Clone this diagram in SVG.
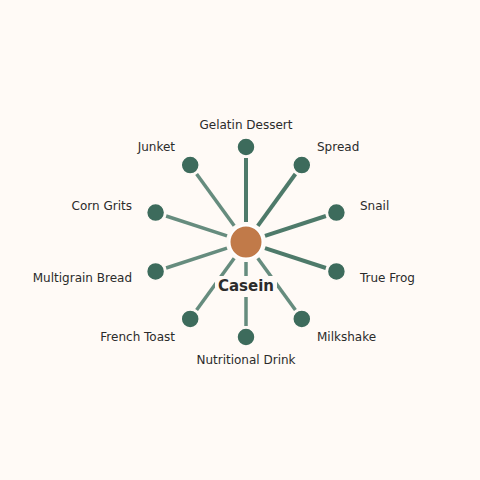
<svg xmlns="http://www.w3.org/2000/svg" width="480" height="480" viewBox="0 0 480 480">
<style>
.lbl{font-family:"DejaVu Sans",sans-serif;font-size:12px;fill:#2b2b2b}
.leaf{fill:#3d6b5c;stroke:#fffaf6;stroke-width:1.5}
.e1{stroke:#4e7a6a;stroke-width:4;stroke-linecap:butt}
.e2{stroke:#668c7e;stroke-width:3.5;stroke-linecap:butt}
</style>
<rect width="480" height="480" fill="#fffaf6"/>
<g id="connectors">
<line class="e1" x1="246" y1="222" x2="246" y2="158"/>
<line class="e1" x1="257.8" y1="225.8" x2="295.4" y2="174"/>
<line class="e1" x1="265" y1="235.8" x2="325.9" y2="216"/>
<line class="e1" x1="265" y1="248.2" x2="325.9" y2="268"/>
<line class="e2" x1="257.8" y1="258.2" x2="295.4" y2="310"/>
<line class="e2" x1="246" y1="262" x2="246" y2="326"/>
<line class="e2" x1="234.2" y1="258.2" x2="196.6" y2="310"/>
<line class="e2" x1="227" y1="248.2" x2="166.1" y2="268"/>
<line class="e2" x1="227" y1="235.8" x2="166.1" y2="216"/>
<line class="e2" x1="234.2" y1="225.8" x2="196.6" y2="174"/>
</g>
<g id="center">
<circle cx="246" cy="242" r="16.5" fill="#c17a49" stroke="#ffffff" stroke-width="2"/>
<rect x="215" y="276" width="62" height="21" fill="#fffaf6"/>
<text x="246" y="291" text-anchor="middle" style="font-family:'DejaVu Sans',sans-serif;font-size:15px;font-weight:bold;fill:#2b2b2b">Casein</text>
</g>
<g id="n-gelatin"><circle class="leaf" cx="246" cy="147" r="9"/><text class="lbl" x="246" y="129" text-anchor="middle">Gelatin Dessert</text></g>
<g id="n-spread"><circle class="leaf" cx="301.8" cy="165.1" r="9"/><text class="lbl" x="317" y="151">Spread</text></g>
<g id="n-snail"><circle class="leaf" cx="336.4" cy="212.6" r="9"/><text class="lbl" x="360" y="210">Snail</text></g>
<g id="n-truefrog"><circle class="leaf" cx="336.4" cy="271.4" r="9"/><text class="lbl" x="360" y="282">True Frog</text></g>
<g id="n-milkshake"><circle class="leaf" cx="301.8" cy="318.9" r="9"/><text class="lbl" x="317" y="341">Milkshake</text></g>
<g id="n-nutritional"><circle class="leaf" cx="246" cy="337" r="9"/><text class="lbl" x="246" y="364" text-anchor="middle">Nutritional Drink</text></g>
<g id="n-frenchtoast"><circle class="leaf" cx="190.2" cy="318.9" r="9"/><text class="lbl" x="175" y="341" text-anchor="end">French Toast</text></g>
<g id="n-multigrain"><circle class="leaf" cx="155.6" cy="271.4" r="9"/><text class="lbl" x="132" y="282" text-anchor="end">Multigrain Bread</text></g>
<g id="n-corngrits"><circle class="leaf" cx="155.6" cy="212.6" r="9"/><text class="lbl" x="132" y="210" text-anchor="end">Corn Grits</text></g>
<g id="n-junket"><circle class="leaf" cx="190.2" cy="165.1" r="9"/><text class="lbl" x="175" y="151" text-anchor="end">Junket</text></g>
</svg>
